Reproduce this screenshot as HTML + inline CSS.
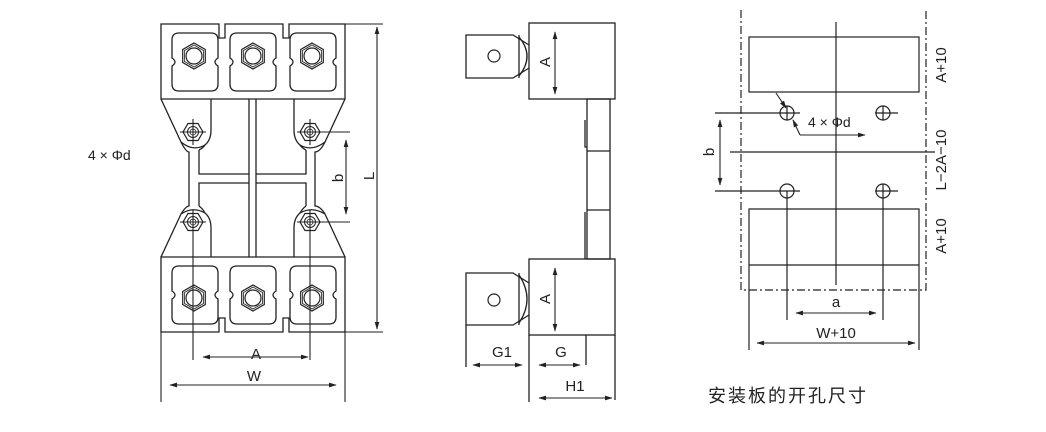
<!DOCTYPE html>
<html><head><meta charset="utf-8"><style>
html,body{margin:0;padding:0;background:#fff;}
svg{display:block;}
text{font-family:"Liberation Sans","Noto Sans CJK SC",sans-serif;fill:#222;}
</style></head><body>
<svg width="1046" height="432" viewBox="0 0 1046 432" xmlns="http://www.w3.org/2000/svg">
<defs>
<marker id="ar" viewBox="0 0 10 10" refX="9" refY="5" markerWidth="8" markerHeight="8" orient="auto-start-reverse" markerUnits="userSpaceOnUse"><path d="M0,2 L10,5 L0,8 z" fill="#222"/></marker>
<g id="pad">
<path d="M-16,-29 H16 Q23,-29 23,-22 V-4 Q20,-2 20,0 Q20,2 23,4 V22 Q23,29 16,29 H-16 Q-23,29 -23,22 V4 Q-20,2 -20,0 Q-20,-2 -23,-4 V-22 Q-23,-29 -16,-29 Z" fill="none" stroke="#222" stroke-width="1.3"/>
</g>
<g id="hex">
<polygon points="0,-13 11.3,-6.5 11.3,6.5 0,13 -11.3,6.5 -11.3,-6.5" fill="none" stroke="#222" stroke-width="1.2"/>
<polygon points="0,-11 9.5,-5.5 9.5,5.5 0,11 -9.5,5.5 -9.5,-5.5" fill="none" stroke="#222" stroke-width="0.8"/>
<circle r="8" fill="none" stroke="#222" stroke-width="1.2"/>
</g>
<g id="bolt">
<polygon points="-10,0 -5,-8.5 5,-8.5 10,0 5,8.5 -5,8.5" fill="none" stroke="#222" stroke-width="1.2"/>
<circle r="5.5" fill="none" stroke="#222" stroke-width="1"/>
<circle r="3" fill="none" stroke="#222" stroke-width="0.8"/>
</g>
<g id="hole"><circle r="7" fill="none" stroke="#222" stroke-width="1.2"/></g>
</defs>
<g fill="none" stroke="#222" stroke-width="1.3">
<path d="M161,24 H219 V38 H225 V24 H283 V38 H289 V24 H345 V99 H161 Z"/>
<path d="M161,332 H219 V318 H225 V332 H283 V318 H289 V332 H345 V257 H161 Z"/>
<path d="M161,99 L181,142 Q186,152 189,152 V206 Q186,206 181,214 L161,257"/>
<path d="M345,99 L325,142 Q320,152 315,152 V206 Q320,206 325,214 L345,257"/>
<path d="M181,142 Q193,152 205,145 Q211,140 211,130 V99"/>
<path d="M181,214 Q193,206 205,213 Q211,218 211,228 V257"/>
<path d="M325,142 Q312,152 300,145 Q294,140 294,130 V99"/>
<path d="M325,214 Q312,206 300,213 Q294,218 294,228 V257"/>
<path d="M199,150 V174 H249"/>
<path d="M199,206 V183 H249"/>
<path d="M306,150 V174 H256 M306,206 V183 H256"/>
<path d="M199,150 Q203,148 205,145 M306,150 Q302,148 300,145"/>
<path d="M199,206 Q203,209 205,213 M306,206 Q302,209 300,213"/>
<path d="M249,99 V257 M256,99 V257"/>
</g>
<use href="#pad" x="195" y="62"/><use href="#pad" x="253" y="62"/><use href="#pad" x="313" y="62"/>
<use href="#pad" x="195" y="295"/><use href="#pad" x="253" y="295"/><use href="#pad" x="313" y="295"/>
<use href="#hex" x="194" y="56"/><use href="#hex" x="253" y="56"/><use href="#hex" x="312" y="56"/>
<use href="#hex" x="194" y="298"/><use href="#hex" x="253" y="298"/><use href="#hex" x="312" y="298"/>
<use href="#bolt" x="193" y="132"/><use href="#bolt" x="310" y="132"/>
<use href="#bolt" x="193" y="222"/><use href="#bolt" x="310" y="222"/>
<g stroke="#222" stroke-width="1.1" fill="none">
<path d="M180,132 H206 M193,119 V145 M297,132 H350 M310,119 V145"/>
<path d="M180,222 H206 M193,210 V360 M297,222 H350 M310,210 V360"/>
<path d="M345,24 H383 M345,332 H383 M161,332 V402 M345,332 V402"/>
<line x1="377" y1="27" x2="377" y2="329" marker-start="url(#ar)" marker-end="url(#ar)"/>
<line x1="346" y1="140" x2="346" y2="214" marker-start="url(#ar)" marker-end="url(#ar)"/>
<line x1="203" y1="357" x2="308" y2="357" marker-start="url(#ar)" marker-end="url(#ar)"/>
<line x1="170" y1="385" x2="336" y2="385" marker-start="url(#ar)" marker-end="url(#ar)"/>
</g>
<text x="256" y="359" font-size="15" text-anchor="middle">A</text>
<text x="254" y="381" font-size="15" text-anchor="middle">W</text>
<text transform="translate(374,176) rotate(-90)" font-size="15" text-anchor="middle">L</text>
<text transform="translate(343,178) rotate(-90)" font-size="15" text-anchor="middle">b</text>
<text x="88" y="160" font-size="14">4 × Φd</text>

<g fill="none" stroke="#222" stroke-width="1.3">
<rect x="529" y="23" width="86" height="76"/>
<rect x="529" y="259" width="86" height="76"/>
<path d="M529,45 L513,35 H466 V78 H513 L529,68"/>
<path d="M519,35 V78 M519,37 Q535,56 519,76"/>
<path d="M529,283 L513,273 H466 V325 H513 L529,315"/>
<path d="M519,273 V325 M519,275 Q535,299 519,323"/>
<rect x="587" y="99" width="23" height="160"/>
<path d="M587,151 H610 M587,210 H610 M585,120 V147 H587 M585,212 V259"/>
<path d="M529,335 V402 M615,335 V400 M586,335 V365 M466,325 V367"/>
</g>
<circle cx="494" cy="56" r="6" fill="none" stroke="#222" stroke-width="1.2"/>
<circle cx="494" cy="300" r="6" fill="none" stroke="#222" stroke-width="1.2"/>
<g stroke="#222" stroke-width="1.1" fill="none">
<line x1="555" y1="32" x2="555" y2="94" marker-start="url(#ar)" marker-end="url(#ar)"/>
<line x1="555" y1="268" x2="555" y2="331" marker-start="url(#ar)" marker-end="url(#ar)"/>
<line x1="473" y1="365" x2="522" y2="365" marker-start="url(#ar)" marker-end="url(#ar)"/>
<line x1="539" y1="365" x2="580" y2="365" marker-start="url(#ar)" marker-end="url(#ar)"/>
<line x1="539" y1="398" x2="612" y2="398" marker-start="url(#ar)" marker-end="url(#ar)"/>
</g>
<text transform="translate(550,62) rotate(-90)" font-size="15" text-anchor="middle">A</text>
<text transform="translate(550,299) rotate(-90)" font-size="15" text-anchor="middle">A</text>
<text x="502" y="357" font-size="15" text-anchor="middle">G1</text>
<text x="561" y="357" font-size="15" text-anchor="middle">G</text>
<text x="575" y="391" font-size="15" text-anchor="middle">H1</text>

<g fill="none" stroke="#222" stroke-width="1.2">
<path d="M741,10 V290 H926 V10" stroke-dasharray="8,3,2,3"/>
<rect x="749" y="37" width="170" height="55"/>
<path d="M749,350 V209 H919 V350 M749,265 H919"/>
<path d="M836,22 V285 M730,152 H935"/>
<path d="M715,113 H800 M875,113 H898 M715,191 H800 M875,191 H898"/>
<path d="M787,191 V320 M883,191 V320 M787,106 V120 M883,106 V120 M883,184 V198"/>
</g>
<use href="#hole" x="787" y="113"/><use href="#hole" x="883" y="113"/>
<use href="#hole" x="787" y="191"/><use href="#hole" x="883" y="191"/>
<g stroke="#222" stroke-width="1.1" fill="none">
<line x1="776" y1="93" x2="786" y2="108" marker-end="url(#ar)"/>
<polyline points="800,135 793,120" marker-end="url(#ar)"/>
<line x1="800" y1="135" x2="865" y2="135" marker-end="url(#ar)"/>
<line x1="720" y1="120" x2="720" y2="185" marker-start="url(#ar)" marker-end="url(#ar)"/>
<line x1="796" y1="313" x2="876" y2="313" marker-start="url(#ar)" marker-end="url(#ar)"/>
<line x1="757" y1="343" x2="915" y2="343" marker-start="url(#ar)" marker-end="url(#ar)"/>
</g>
<text x="808" y="127" font-size="14">4 × Φd</text>
<text transform="translate(714,152) rotate(-90)" font-size="15" text-anchor="middle">b</text>
<text x="836" y="307" font-size="15" text-anchor="middle">a</text>
<text x="836" y="338" font-size="15" text-anchor="middle">W+10</text>
<text transform="translate(946,65) rotate(-90)" font-size="15" text-anchor="middle">A+10</text>
<text transform="translate(946,160) rotate(-90)" font-size="15" text-anchor="middle">L−2A−10</text>
<text transform="translate(946,236) rotate(-90)" font-size="15" text-anchor="middle">A+10</text>
<text x="708" y="402" font-size="18" letter-spacing="2">安装板的开孔尺寸</text>
</svg>
</body></html>
